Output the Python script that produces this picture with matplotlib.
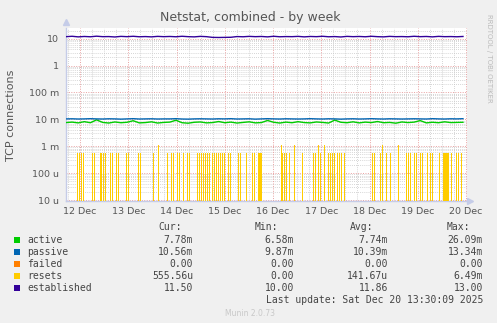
import matplotlib
matplotlib.use('Agg')
import matplotlib.pyplot as plt
import numpy as np
from matplotlib.patches import Rectangle

# time axis in hours since 12 Dec 00:00
t_start, t_end = -7.0, 190.5
day_labels = ['12 Dec', '13 Dec', '14 Dec', '15 Dec', '16 Dec', '17 Dec', '18 Dec', '19 Dec', '20 Dec']

# connection counts (per second)
active = [7.6, 7.9, 7.4, 8.2, 7.5, 9.6, 7.7, 7.3, 8.0, 7.5, 7.8, 8.9, 7.4, 7.6, 8.1, 7.3, 7.7,
          7.9, 9.3, 7.5, 7.2, 7.8, 8.0, 7.4, 7.6, 8.3, 7.5, 7.9, 7.3, 7.7, 8.1, 7.4, 7.6, 9.1,
          7.8, 7.3, 7.9, 7.5, 8.2, 7.6, 7.4, 8.0, 7.7, 7.3, 9.4, 7.8, 7.5, 8.1, 7.4, 7.9, 7.6,
          8.3, 7.5, 7.7, 7.2, 8.0, 7.6, 7.9, 9.0, 7.4, 7.8, 7.5, 8.1, 7.6, 7.7, 7.8]
passive = [10.4, 10.5, 10.3, 10.4, 10.6, 10.4, 10.3, 10.5, 10.4, 10.2, 10.4, 10.6, 10.3, 10.4,
           10.5, 10.3, 10.4, 10.4, 10.6, 10.3, 10.2, 10.4, 10.5, 10.4, 10.3, 10.5, 10.4, 10.6,
           10.3, 10.4, 10.5, 10.2, 10.4, 10.6, 10.4, 10.3, 10.5, 10.4, 10.3, 10.4, 10.6, 10.4,
           10.3, 10.5, 10.4, 10.2, 10.4, 10.5, 10.3, 10.4, 10.6, 10.4, 10.3, 10.5, 10.4, 10.3,
           10.4, 10.5, 10.4, 10.3, 10.6, 10.4, 10.3, 10.5, 10.4, 10.6]
established = [11.9, 12.3, 11.7, 12.1, 11.8, 12.4, 11.9, 12.0, 11.6, 12.2, 11.9, 12.3, 11.8,
               12.0, 11.7, 12.2, 11.9, 12.1, 11.8, 12.3, 11.9, 11.7, 12.2, 11.9, 11.2, 11.1,
               11.2, 11.3, 12.0, 11.8, 12.2, 11.9, 12.1, 11.7, 12.3, 11.8, 12.0, 11.9, 12.2,
               11.7, 12.1, 11.9, 12.3, 11.8, 12.0, 11.6, 12.2, 11.9, 12.1, 11.8, 12.3, 11.9,
               11.7, 12.2, 11.9, 12.0, 11.8, 12.3, 11.9, 12.1, 11.7, 12.2, 11.9, 12.0, 11.8, 12.1]

# resets: hours where one reset (555.56u) was seen, and where two were seen (1.11m)
reset_single = [-1.5, -0.5, 0.5, 1.5, 6, 7, 10, 10.5, 11.5, 12.5, 15, 16, 18, 19, 23, 24, 29, 30,
                36.5, 43, 45, 46, 48, 49, 51, 53, 54, 58, 59, 60, 61, 62, 63, 64, 65.5, 66.5,
                67.5, 68.5, 69.5, 70.5, 71.5, 73.5, 74.5, 78.5, 79.5, 82.5, 85.5, 86.5, 88.5,
                89, 89.5, 90, 100.5, 101.5, 102.5, 104, 110.5, 116, 117, 119.5, 123.5, 124.5,
                125.5, 126.5, 128, 129, 130, 131.5, 145, 146, 149, 152, 154, 162, 163, 164,
                166, 167, 169, 170, 172.5, 174, 175, 178.5, 180.5, 181, 181.5, 182, 182.5,
                183, 184.5, 187, 188, 189.5]
reset_double = [39, 100, 106.5, 118.5, 121.5, 150, 158]

legend_names = ['active', 'passive', 'failed', 'resets', 'established']
colors = ['#00CC00', '#0066B3', '#FF8000', '#FFCC00', '#330099']
cur = ['7.78m', '10.56m', '0.00', '555.56u', '11.50']
mins = ['6.58m', '9.87m', '0.00', '0.00', '10.00']
avgs = ['7.74m', '10.39m', '0.00', '141.67u', '11.86']
maxs = ['26.09m', '13.34m', '0.00', '6.49m', '13.00']

W, H = 497, 323
fig = plt.figure(figsize=(W / 100, H / 100), dpi=100, facecolor='#F0F0F0')
ax = fig.add_axes([66 / W, 1 - 201 / H, (467 - 66) / W, (201 - 28) / H])
ax.set_facecolor('white')
ax.set_yscale('log', nonpositive='clip')
ax.set_xlim(-7, 192.5)
ax.set_ylim(9.2e-6, 25)
y_floor = 9.2e-6

# grid
dot = (0, (1, 1.5))
for d in range(-1, 9):
    for k in (6, 12, 18):
        h = d * 24 + k
        if -7 < h < 192.5:
            ax.axvline(h, color='#C8C8C8', lw=0.6, ls=dot, zorder=1)
for dec in range(-6, 2):
    for m in range(2, 10):
        ax.axhline(m * 10.0 ** dec, color='#C8C8C8', lw=0.6, ls=dot, zorder=1)
for d in range(9):
    ax.axvline(d * 24, color='#E8A0A0', lw=0.7, ls=dot, zorder=1)
for dec in range(-5, 2):
    ax.axhline(10.0 ** dec, color='#E8A0A0', lw=0.7, ls=dot, zorder=1)

# resets as spikes from the floor (zero is below a log axis)
ax.vlines(reset_single, y_floor, 1 / 1800, color=colors[3], lw=0.5, zorder=3, antialiased=False)
ax.vlines(reset_double, y_floor, 2 / 1800, color=colors[3], lw=0.5, zorder=3, antialiased=False)

ta = np.linspace(t_start, t_end, len(active))
ax.plot(ta, np.array(active) * 1e-3, color=colors[0], lw=1.0, zorder=4)
tp = np.linspace(t_start, t_end, len(passive))
ax.plot(tp, np.array(passive) * 1e-3, color=colors[1], lw=1.0, zorder=4)
te = np.linspace(t_start, t_end, len(established))
ax.plot(te, established, color=colors[4], lw=1.0, zorder=4)

# axes styling
for s in ['top', 'right']:
    ax.spines[s].set_visible(False)
for s in ['left', 'bottom']:
    ax.spines[s].set_color('#C5CCE8')
    ax.spines[s].set_linewidth(1.0)
ax.plot([0], [1.035], marker='^', ms=4, color='#C5CCE8', transform=ax.transAxes, clip_on=False)
ax.plot([1.008], [0], marker='>', ms=4, color='#C5CCE8', transform=ax.transAxes, clip_on=False)

ax.set_xticks([d * 24 for d in range(9)])
ax.set_xticklabels(day_labels)
ax.set_yticks([1e-5, 1e-4, 1e-3, 1e-2, 1e-1, 1, 10])
ax.set_yticklabels(['10 u', '100 u', '1 m', '10 m', '100 m', '1', '10'])
ax.yaxis.set_minor_locator(matplotlib.ticker.NullLocator())
ax.tick_params(axis='both', length=0, labelsize=6.8, colors='#555555')
ax.tick_params(axis='y', pad=5)
ax.tick_params(axis='x', pad=4)

fig.text(250 / W, 1 - 18 / H, 'Netstat, combined - by week', ha='center', va='center',
         fontsize=9, color='#555555')
fig.text(11 / W, 1 - 115 / H, 'TCP connections', rotation=90, ha='center', va='center',
         fontsize=8, color='#555555')
fig.text(489 / W, 1 - 58 / H, 'RRDTOOL / TOBI OETIKER', rotation=270, ha='center', va='center',
         fontsize=5, color='#BBBBBB')

# legend table
mono = 'DejaVu Sans Mono'
fs = 7
tc = '#444444'
def ty(y):
    return 1 - y / H
fig.text(158 / W, ty(227), 'Cur:', fontfamily=mono, fontsize=fs, color=tc, va='center')
fig.text(255 / W, ty(227), 'Min:', fontfamily=mono, fontsize=fs, color=tc, va='center')
fig.text(350 / W, ty(227), 'Avg:', fontfamily=mono, fontsize=fs, color=tc, va='center')
fig.text(447 / W, ty(227), 'Max:', fontfamily=mono, fontsize=fs, color=tc, va='center')
for i, name in enumerate(legend_names):
    y = 240 + 12 * i
    fig.patches.append(Rectangle((14 / W, ty(y + 3)), 6 / W, 6 / H, transform=fig.transFigure,
                                 facecolor=colors[i], edgecolor='none'))
    fig.text(27 / W, ty(y), name, fontfamily=mono, fontsize=fs, color=tc, va='center')
    fig.text(193 / W, ty(y), cur[i], fontfamily=mono, fontsize=fs, color=tc, va='center', ha='right')
    fig.text(294 / W, ty(y), mins[i], fontfamily=mono, fontsize=fs, color=tc, va='center', ha='right')
    fig.text(388 / W, ty(y), avgs[i], fontfamily=mono, fontsize=fs, color=tc, va='center', ha='right')
    fig.text(483 / W, ty(y), maxs[i], fontfamily=mono, fontsize=fs, color=tc, va='center', ha='right')
fig.text(483 / W, ty(300), 'Last update: Sat Dec 20 13:30:09 2025', fontfamily=mono, fontsize=fs,
         color=tc, va='center', ha='right')
fig.text(250 / W, ty(313), 'Munin 2.0.73', fontsize=5.5, color='#C8C8C8', va='center', ha='center')

fig.savefig('out.png', dpi=100, facecolor=fig.get_facecolor())
